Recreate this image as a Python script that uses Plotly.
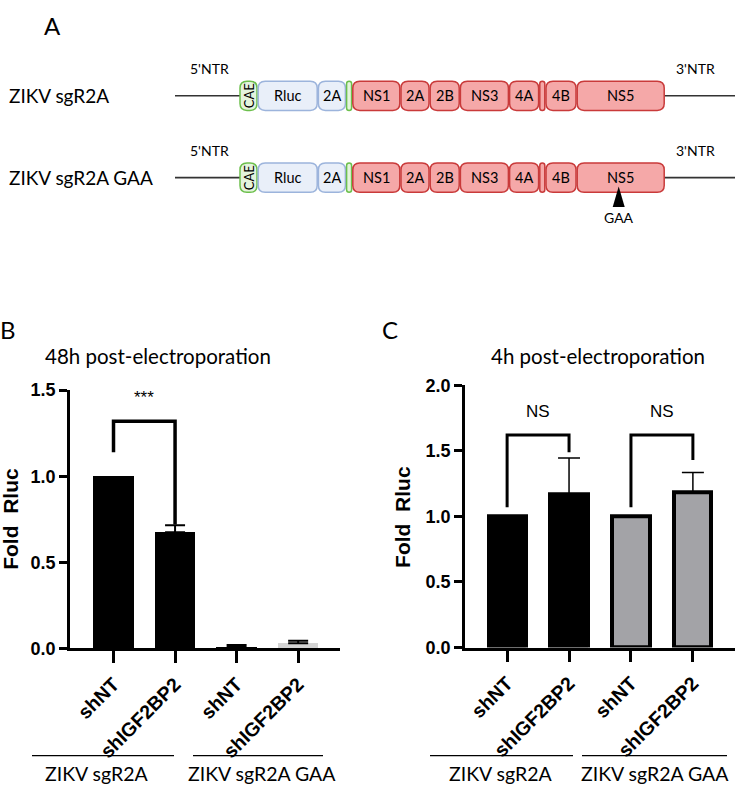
import plotly.graph_objects as go

W, H = 735, 793

# ---------------- data ----------------
bar_labels = ["shNT", "shIGF2BP2", "shNT", "shIGF2BP2"]
group_labels = ["ZIKV sgR2A", "ZIKV sgR2A GAA"]

b_title = "48h post-electroporation"
b_values = [1.0, 0.675, 0.01, 0.03]
b_errors = [None, 0.04, 0.01, 0.015]
b_colors = ["#000000", "#000000", "#000000", "#d4d4d4"]
b_sig = ["***"]
b_bracket = [(0, 1, 1.14, 1.32, 0.72)]   # x_left, x_right, y_left_bottom, y_top, y_right_bottom

c_title = "4h post-electroporation"
c_values = [1.0, 1.165, 1.0, 1.185]
c_errors = [None, 0.28, None, 0.15]
c_colors = ["#000000", "#000000", "#a3a3a7", "#a3a3a7"]
c_sig = ["NS", "NS"]
c_bracket = [(0, 1, 1.07, 1.62, 1.49), (2, 3, 1.07, 1.62, 1.43)]

# Panel A genome map
constructs = ["ZIKV sgR2A", "ZIKV sgR2A GAA"]
seg_names = ["CAE", "Rluc", "2A", "", "NS1", "2A", "2B", "NS3", "4A", "", "4B", "NS5"]
seg_widths = [17, 59, 27, 5, 47, 28, 29, 48, 29, 5, 30, 87]
seg_kind = ["g", "b", "b", "g", "r", "r", "r", "r", "r", "r", "r", "r"]
mutation = ("NS5", "GAA")

kind_fill = {"g": "#e4f4dc", "b": "#e9eff9", "r": "#f5a8a8"}
kind_line = {"g": "#6cbf4c", "b": "#9cb4dc", "r": "#c93a3a"}

FONT_T = "Lato"
FONT_B = "Liberation Sans"

fig = go.Figure()

xs = list(range(len(bar_labels)))


def add_panel(values, errors, colors, width, line_w, xa, ya, err_thick, err_w):
    fig.add_trace(go.Bar(
        x=xs, y=values, width=width, xaxis=xa, yaxis=ya,
        marker=dict(color=colors, line=dict(width=line_w, color="black")),
        showlegend=False, hoverinfo="skip"))
    ex = [x for x, e in zip(xs, errors) if e is not None]
    ey = [v for v, e in zip(values, errors) if e is not None]
    ee = [e for e in errors if e is not None]
    fig.add_trace(go.Scatter(
        x=ex, y=ey, xaxis=xa, yaxis=ya, mode="markers",
        marker=dict(size=1, opacity=0),
        error_y=dict(type="data", symmetric=False, array=ee, arrayminus=[0] * len(ee),
                     color="black", thickness=err_thick, width=err_w),
        showlegend=False, hoverinfo="skip"))


add_panel(b_values, b_errors, b_colors, 0.66, 0, "x", "y", 2, 10)
add_panel(c_values, c_errors, c_colors, 0.6, 4, "x2", "y2", 1.5, 11)

# overlay pixel axis (for diagram + decorations)
fig.add_trace(go.Scatter(x=[0], y=[0], xaxis="x3", yaxis="y3", mode="markers",
                         marker=dict(opacity=0), showlegend=False, hoverinfo="skip"))


def px(x):
    return x / W


def py(y):
    return 1 - y / H


axis_common = dict(showline=True, linecolor="black", linewidth=2.5, ticks="outside",
                   tickcolor="black", tickwidth=2.5, showgrid=False, zeroline=False,
                   fixedrange=True)
ytick_font = dict(family=FONT_B, size=18, color="black", weight="bold")
xtick_font = dict(family=FONT_B, size=19.5, color="black", weight="bold")

layout = dict(
    width=W, height=H, autosize=False,
    margin=dict(l=0, r=0, t=0, b=0),
    paper_bgcolor="white", plot_bgcolor="rgba(0,0,0,0)",
    bargap=0,
    xaxis=dict(domain=[px(70), px(340)], range=[-0.707, 3.68], anchor="y",
               tickvals=xs, ticktext=bar_labels, tickangle=-45, ticklen=12,
               ticklabelstandoff=2, tickfont=xtick_font, **axis_common),
    yaxis=dict(domain=[py(655), py(390)], range=[0, 1.5], anchor="x",
               tickvals=[0, 0.5, 1.0, 1.5], ticktext=["0.0", "0.5", "1.0", "1.5"],
               ticklen=8, tickfont=ytick_font, **axis_common),
    xaxis2=dict(domain=[px(465), 1.0], range=[-0.68, 3.68], anchor="y2",
                tickvals=xs, ticktext=bar_labels, tickangle=-45, ticklen=12,
                ticklabelstandoff=2, tickfont=xtick_font, **axis_common),
    yaxis2=dict(domain=[py(654), py(385)], range=[0, 2.0], anchor="x2",
                tickvals=[0, 0.5, 1.0, 1.5, 2.0], ticktext=["0.0", "0.5", "1.0", "1.5", "2.0"],
                ticklen=8, tickfont=ytick_font, **axis_common),
    xaxis3=dict(domain=[0, 1], range=[0, W], anchor="y3", visible=False, fixedrange=True),
    yaxis3=dict(domain=[0, 1], range=[H, 0], anchor="x3", visible=False, fixedrange=True),
)
fig.update_layout(**layout)

shapes = []
annotations = []


def ann(x, y, text, size, family=FONT_T, color="black", xanchor="center", angle=0, weight="normal"):
    annotations.append(dict(x=x, y=y, xref="x3", yref="y3", text=text, showarrow=False,
                            xanchor=xanchor, yanchor="middle", textangle=angle,
                            font=dict(family=family, size=size, color=color, weight=weight)))


# ---------------- Panel A diagram ----------------
def rr_path(x0, x1, y0, y1, r):
    r = min(r, (x1 - x0) / 2, (y1 - y0) / 2)
    return (f"M {x0 + r},{y0} L {x1 - r},{y0} Q {x1},{y0} {x1},{y0 + r} "
            f"L {x1},{y1 - r} Q {x1},{y1} {x1 - r},{y1} L {x0 + r},{y1} "
            f"Q {x0},{y1} {x0},{y1 - r} L {x0},{y0 + r} Q {x0},{y0} {x0 + r},{y0} Z")


ann(52, 16, "A", 24)
row_y = [88, 172]
start_x, gap, half_h = 240, 1.2, 15
for ri, name in enumerate(constructs):
    yc = row_y[ri]
    ann(7, yc, name, 19, xanchor="left")
    ann(209, yc - 28, "5'NTR", 14)
    ann(695, yc - 28, "3'NTR", 14)
    x = start_x
    ends = []
    for w in seg_widths:
        ends.append((x, x + w))
        x += w + gap
    end_x = ends[-1][1]
    shapes.append(dict(type="line", xref="x3", yref="y3", x0=175, x1=start_x, y0=yc, y1=yc,
                       line=dict(color="#333333", width=1.6)))
    shapes.append(dict(type="line", xref="x3", yref="y3", x0=end_x, x1=W, y0=yc, y1=yc,
                       line=dict(color="#333333", width=1.6)))
    for (x0, x1), nm, k in zip(ends, seg_names, seg_kind):
        shapes.append(dict(type="path", xref="x3", yref="y3",
                           path=rr_path(x0, x1, yc - half_h, yc + half_h, 7),
                           fillcolor=kind_fill[k], line=dict(color=kind_line[k], width=1.5)))
        if nm:
            if nm == "CAE":
                ann((x0 + x1) / 2, yc, nm, 13, angle=-90)
            else:
                ann((x0 + x1) / 2, yc, nm, 14.5)
    if ri == 1:
        idx = seg_names.index(mutation[0])
        mx = (ends[idx][0] + ends[idx][1]) / 2 - 2
        shapes.append(dict(type="path", xref="x3", yref="y3",
                           path=f"M {mx},{yc + 9} L {mx - 6},{yc + 30} L {mx + 6},{yc + 30} Z",
                           fillcolor="black", line=dict(width=0)))
        ann(mx, yc + 41, mutation[1], 14)

# ---------------- Panel B / C decorations ----------------
ann(8, 328, "B", 24)
ann(390, 328, "C", 24)
ann(158, 355, b_title, 20.5)
ann(598, 355, c_title, 20.5)
ann(11, 522, "Fold  Rluc", 21, family=FONT_B, angle=-90, weight="bold")
ann(403, 520, "Fold  Rluc", 21, family=FONT_B, angle=-90, weight="bold")

group_lines = [(32, 174), (193, 323), (430, 573), (582, 727)]
group_centers = [96, 262, 500, 655]
for i, (x0, x1) in enumerate(group_lines):
    shapes.append(dict(type="line", xref="x3", yref="y3", x0=x0, x1=x1, y0=765, y1=765,
                       line=dict(color="black", width=1.2)))
    ann(group_centers[i], 783, group_labels[i % 2], 19.5)

for (xr, yr, brs, sigs, lw) in [("x", "y", b_bracket, b_sig, 3.5), ("x2", "y2", c_bracket, c_sig, 3)]:
    for (xl, xrr, ylb, yt, yrb), s in zip(brs, sigs):
        shapes.append(dict(type="path", xref=xr, yref=yr,
                           path=f"M {xl},{ylb} L {xl},{yt} L {xrr},{yt} L {xrr},{yrb}",
                           line=dict(color="black", width=lw), fillcolor="rgba(0,0,0,0)"))
        annotations.append(dict(x=(xl + xrr) / 2, y=yt, xref=xr, yref=yr, text=s,
                                showarrow=False, yanchor="bottom", yshift=12,
                                font=dict(family=FONT_B, size=17, color="black")))

fig.update_layout(shapes=shapes, annotations=annotations)
fig.write_html("out.html", config={"displayModeBar": False},
               post_script="document.body.style.margin='0';")
